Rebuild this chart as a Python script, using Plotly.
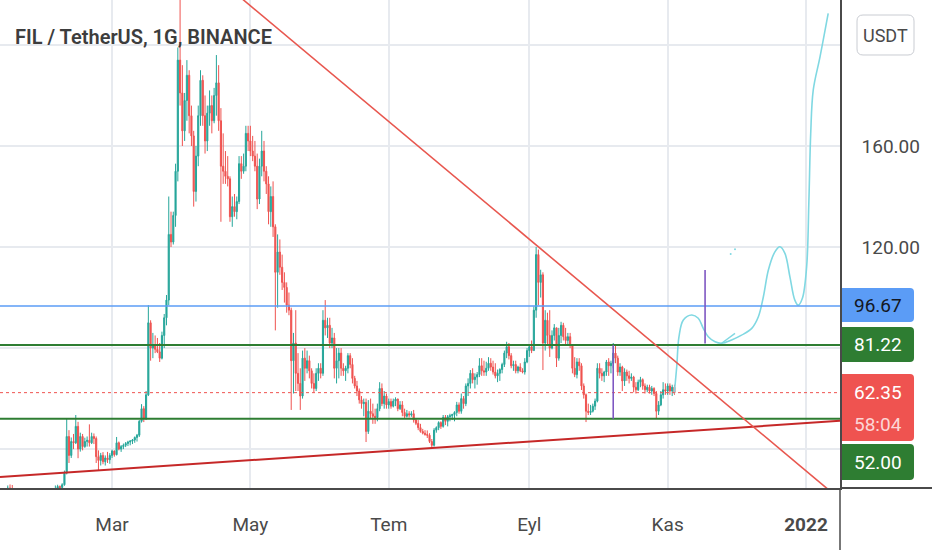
import pandas as pd
import plotly.graph_objects as go

# ---- daily candles, FIL/USDT (Binance) ----
# open of each day = close of the previous day
first_open = 20.5

jan_high = [23.5, 22, 22.5, 23.8, 25.6, 26.0, 25.8, 24.6, 24.0, 23.8, 22.6, 21.8, 20.6, 20.8, 21.5, 22.2, 21.6, 21.0, 21.2, 22.4, 22.2, 22.0]
jan_low = [19.5, 18, 19.8, 21, 22.5, 23, 23.6, 22.5, 22.2, 21.8, 20, 18.5, 18.2, 19.5, 19.8, 20.5, 20.2, 19.4, 19.6, 20.4, 21.0, 20.8]
jan_close = [21, 20.5, 21.8, 23.2, 24.6, 24.3, 24.1, 23.4, 23.0, 22.1, 21.5, 19.2, 20.1, 20.2, 21.0, 21.0, 20.9, 19.9, 20.9, 21.6, 21.7, 21.4]

feb_high = [22.8, 23.8, 24.2, 25.6, 25.9, 25.6, 26.5, 31.5, 52.3, 47.5, 44.6, 46, 53.5, 50.8, 46.5, 46, 44.5, 45, 49.8, 46.5, 46.2, 45, 39.5, 38.5, 38.8, 37.5, 38.9, 38.4]
feb_low = [21, 22, 22.8, 23.2, 23.8, 24.0, 23.8, 25.5, 30, 34.5, 36.5, 40, 42, 36.4, 39, 39.5, 40.5, 41, 41, 42, 42, 34.5, 31.5, 33.5, 34, 33.5, 34.5, 34.2]
feb_close = [22.5, 23.3, 23.9, 24.2, 25.2, 24.8, 25.9, 30.5, 45, 37.5, 43, 42.5, 49, 40, 45, 41, 43, 43.5, 42.5, 45, 44.2, 37, 35.5, 37.5, 35, 36.5, 35.8, 37.5]

mar_high = [39.8, 39.5, 44.8, 43, 41.6, 42.2, 42.8, 43.3, 43.5, 44, 45, 46, 51.5, 57.8, 57, 63, 97, 91, 86, 85, 84, 82, 86.5, 93.5, 101, 140, 134, 134, 153, 199, 237]
mar_low = [36.5, 37, 37.5, 39.5, 38.9, 40, 40.8, 41.2, 41.5, 42, 42.5, 43, 44.8, 50.5, 50.7, 51.5, 61, 75, 76, 78, 78, 74.5, 75.5, 80, 89, 97, 120, 121, 128, 146, 176]
mar_close = [39.2, 37.8, 42.5, 40, 41, 41.5, 42.2, 42.8, 43.2, 43.6, 44.6, 45.5, 51, 56, 52, 61.5, 90, 80, 81, 79.5, 78.5, 76, 85, 92, 99, 125, 122, 132.5, 150, 194, 181]

apr_high = [192, 181, 194, 190, 176, 166, 160, 176, 190, 188, 180, 176, 182, 180, 183, 196, 192, 175, 165, 158, 156, 148, 140, 141, 140, 156, 156, 157, 168, 168]
apr_low = [160, 162, 170, 165, 160, 136, 138, 152, 168, 168, 157, 158, 168, 165, 169, 172, 166, 130, 145, 145, 144, 130, 128, 132, 131, 137, 147, 149, 150, 158]
apr_close = [166, 178, 188, 172, 164, 142, 156, 172, 186, 172, 162, 173, 176, 170, 180, 185, 170, 152, 150, 148, 147, 132, 136, 134, 138, 153, 150, 152, 165, 162]

may_high = [168, 164, 162, 157, 155, 166, 162, 152, 148, 144, 146, 129, 125, 123, 117, 110, 106, 102, 96, 86, 95, 78, 72, 79, 80, 79, 77, 72, 70, 72, 74]
may_low = [156, 154, 150, 135, 137, 148, 146, 141, 129, 128, 124, 87, 96, 109, 103, 98, 94, 93, 55.5, 62, 63, 63, 55.5, 60, 67, 70, 68, 64, 62.5, 63, 67]
may_close = [158, 156, 152, 139, 152, 158, 150, 145, 134, 140, 128, 110, 118, 112, 106, 104, 97, 95, 75, 82, 70, 66, 61, 76, 72, 75, 71, 66, 64, 70, 72]

jun_high = [74, 95, 99, 92, 92, 88, 86, 80, 80, 80, 74, 73, 78, 78, 76, 69, 67, 64, 61, 60, 60, 59.4, 60, 58, 56, 58, 66.5, 66, 63, 62]
jun_low = [68, 69, 85, 84, 80, 80, 68, 66, 68, 69, 69, 67, 70, 72, 66, 64, 61, 58, 56, 53, 42.8, 46, 52, 50, 50, 51, 55, 57, 56, 56]
jun_close = [70, 91, 88, 89, 82, 84, 72, 75, 78, 72, 71, 72, 77, 73.5, 68, 65, 63, 59.5, 58, 58.5, 47, 55, 54, 53, 52.5, 56, 64, 58, 61, 57.5]

jul_high = [60, 60, 60, 60.5, 60, 59, 59, 56, 55.5, 55, 55, 55.5, 52, 51.5, 50, 48, 47.5, 47.4, 46.3, 44, 48.3, 49, 51, 51, 53.5, 53.5, 53.5, 54, 54, 55, 58.7]
jul_low = [56, 56, 56.5, 57, 55, 55.5, 53, 52, 52.5, 52.5, 52.8, 50.5, 49.5, 47.5, 46.5, 45.8, 45.3, 44.4, 42.4, 40.4, 41, 46.5, 47.5, 48, 48.5, 49.5, 49, 51, 51.5, 51, 53]
jul_close = [58.8, 57, 59, 59.8, 56, 57.5, 54.5, 53, 54, 53.5, 54, 51.5, 50.2, 48.5, 47, 46.3, 45.8, 45.5, 43, 41.5, 47.5, 48.5, 50.5, 49, 52.5, 51, 52.8, 53.2, 53.7, 54.5, 57.5]

aug_high = [58.5, 62, 61, 66, 68, 71.3, 72, 70, 70.5, 76, 76, 75, 74.6, 76.4, 76, 75, 74, 71.5, 72, 74.2, 79, 82.5, 82, 78, 75, 75, 73, 74, 72, 76, 80]
aug_low = [54, 54, 56, 57, 61, 64, 66, 64, 65.5, 68.5, 69, 69, 69, 71, 71, 69.5, 68, 66.5, 67, 70, 72.5, 76, 75.5, 72, 71, 70, 70, 70.5, 70, 69.5, 74]
aug_close = [55, 60, 58, 65, 66, 70, 67.5, 68.5, 69.5, 73, 71, 70.5, 72, 74, 72.5, 70.5, 69, 70, 71.5, 73.5, 78, 80.5, 77, 73, 73.5, 71, 72.5, 71, 70.5, 74.5, 79]

sep_high = [81.5, 83, 96.5, 120, 119, 111, 110, 95, 94, 95, 87, 89.5, 88, 88, 90.4, 90, 88, 86, 86, 81.5, 76.4, 76, 76, 74, 66, 62, 58, 57.5, 58, 60]
sep_low = [76.5, 78, 79.5, 92, 97, 100, 71.3, 79, 81, 76.5, 79.5, 83, 72.5, 75, 82, 83, 81.5, 81, 80, 70, 68.5, 68, 71, 63.4, 60, 50.7, 53.5, 53.5, 54.5, 55.5]
sep_close = [80.5, 79, 95, 117, 106, 109, 82, 91, 85, 80, 85, 88, 76, 85, 89, 84.5, 83, 84.5, 81, 72, 69.5, 74.5, 73, 65, 61.5, 55, 54.5, 55, 57, 59]

oct_high = [74, 74, 72, 71, 75.3, 76, 75, 82, 81, 77, 74, 73, 72, 71.5, 71, 70, 69, 66.5, 67.5, 68.6, 68, 66, 65.5, 65.5, 65, 64.5, 63, 59, 63, 66.5, 66]
oct_low = [58.5, 68, 67, 66.5, 69, 69, 70, 72, 74, 69, 69, 63, 65, 67, 66, 67, 62.5, 62, 63, 64.5, 63.5, 62, 62.5, 62, 61.5, 61, 52.3, 53.5, 57, 60, 61.5]
oct_close = [72, 70, 69, 70.5, 74.5, 73, 74, 78, 76, 70.5, 72.5, 67, 70.5, 69, 68, 68.5, 64.5, 63.5, 66.5, 67.5, 65, 63.5, 64.5, 63, 64, 62, 55, 57.5, 61.5, 63.5, 63]

nov_high = [66, 66, 65.5, 65.5]
nov_low = [61.5, 61.5, 61, 61.5]
nov_close = [65, 63, 64.5, 62.35]

# ---- drawings on the chart ----
level_blue = 96.67
level_green_hi = 81.22
level_green_lo = 52.00
last_price = 62.35
countdown = "58:04"

down_trend = (["2021-04-18", "2022-01-20"], [225.3, 17.1])
up_trend = (["2021-01-10 14:00", "2022-01-16"], [29.0, 51.2])
purple_1 = ("2021-10-08", [52.0, 81.2])
purple_2 = ("2021-11-17 12:00", [81.8, 110.9])

path_dates = ["2021-11-03 22:00", "2021-11-05", "2021-11-06", "2021-11-07 22:00", "2021-11-11 14:00",
              "2021-11-14 12:00", "2021-11-16 17:00", "2021-11-18 22:00", "2021-11-21 22:00",
              "2021-11-24 19:00", "2021-11-29 05:00", "2021-12-03 14:00", "2021-12-08 02:00",
              "2021-12-11", "2021-12-13 05:00", "2021-12-15 10:00", "2021-12-18 07:00",
              "2021-12-20 12:00", "2021-12-22 17:00", "2021-12-24 22:00", "2021-12-27 02:00",
              "2021-12-28 14:00", "2021-12-30 10:00", "2022-01-01 07:00", "2022-01-02 07:00",
              "2022-01-03 02:00", "2022-01-04 05:00", "2022-01-07 05:00", "2022-01-10 19:00"]
path_values = [62.0, 72.6, 84.5, 91.1, 93.1, 91.8, 87.8, 84.5, 82.5, 81.9, 83.2, 85.1, 87.8,
               92.4, 100.3, 110.9, 118.1, 120.1, 117.5, 108.2, 99.0, 97.0, 99.7, 112.2, 138.6,
               165.0, 182.2, 195.4, 212.5]
arrow_dates = ["2021-11-24 19:00", "2021-11-30 17:00"]
arrow_values = [81.9, 85.8]
dot_dates = ["2021-11-28 19:00", "2021-11-30 17:00"]
dot_values = [117.2, 119.1]

month_ticks = ["2021-03-01", "2021-05-01", "2021-07-01", "2021-09-01", "2021-11-01", "2022-01-01"]
month_labels = ["Mar", "May", "Tem", "Eyl", "Kas", "<b>2022</b>"]
price_ticks = [40, 80, 120, 160, 200]
price_labels = ["", "", "120.00", "160.00", ""]

# ---- assemble candles ----
highs = jan_high + feb_high + mar_high + apr_high + may_high + jun_high + jul_high + aug_high + sep_high + oct_high + nov_high
lows = jan_low + feb_low + mar_low + apr_low + may_low + jun_low + jul_low + aug_low + sep_low + oct_low + nov_low
closes = jan_close + feb_close + mar_close + apr_close + may_close + jun_close + jul_close + aug_close + sep_close + oct_close + nov_close
opens = [first_open] + closes[:-1]
highs = [max(h, o, c) for h, o, c in zip(highs, opens, closes)]
lows = [min(l, o, c) for l, o, c in zip(lows, opens, closes)]
days = pd.date_range("2021-01-10", periods=len(closes), freq="D")

W, H = 932, 550
PW, PH = 840, 488  # plot area in pixels
UP, DOWN = "#26a69a", "#ef5350"
GREEN = "#2e7d32"
TXT = "#4a4a4a"
SEP = "#4a4a4a"


def px(x, y):
    return f"{x / PW:.5f},{1 - y / PH:.5f}"


def box(x0, y0, x1, y1, r, all_round=False):
    rl = r if all_round else 0
    p = f"M{px(x0 + rl, y0)} L{px(x1 - r, y0)} Q{px(x1, y0)} {px(x1, y0 + r)} "
    p += f"L{px(x1, y1 - r)} Q{px(x1, y1)} {px(x1 - r, y1)} L{px(x0 + rl, y1)} "
    if rl:
        p += f"Q{px(x0, y1)} {px(x0, y1 - rl)} L{px(x0, y0 + rl)} Q{px(x0, y0)} {px(x0 + rl, y0)} "
    else:
        p += f"L{px(x0, y1)} "
    return p + "Z"


fig = go.Figure()

fig.add_trace(go.Candlestick(
    x=days, open=opens, high=highs, low=lows, close=closes,
    increasing=dict(line=dict(color=UP, width=1), fillcolor=UP),
    decreasing=dict(line=dict(color=DOWN, width=1), fillcolor=DOWN),
    whiskerwidth=0, hoverinfo="skip",
))

fig.add_trace(go.Scatter(x=path_dates, y=path_values, mode="lines",
                         line=dict(color="#80d8e2", width=1.6, shape="spline", smoothing=1.0),
                         hoverinfo="skip"))
fig.add_trace(go.Scatter(x=arrow_dates, y=arrow_values, mode="lines",
                         line=dict(color="#80d8e2", width=1.4), hoverinfo="skip"))
fig.add_trace(go.Scatter(x=dot_dates, y=dot_values, mode="markers",
                         marker=dict(color="#80d8e2", size=2), hoverinfo="skip"))

shapes = []
# horizontal levels
shapes.append(dict(type="line", xref="paper", yref="y", x0=0, x1=1, y0=level_blue, y1=level_blue,
                   line=dict(color="#5b9cf6", width=1.6)))
for lv in (level_green_hi, level_green_lo):
    shapes.append(dict(type="line", xref="paper", yref="y", x0=0, x1=1, y0=lv, y1=lv,
                       line=dict(color=GREEN, width=2)))
shapes.append(dict(type="line", xref="paper", yref="y", x0=0, x1=1, y0=last_price, y1=last_price,
                   line=dict(color=DOWN, width=1, dash="dot")))
# trend lines
shapes.append(dict(type="line", xref="x", yref="y", x0=up_trend[0][0], x1=up_trend[0][1],
                   y0=up_trend[1][0], y1=up_trend[1][1], line=dict(color="#c62828", width=2)))
shapes.append(dict(type="line", xref="x", yref="y", x0=down_trend[0][0], x1=down_trend[0][1],
                   y0=down_trend[1][0], y1=down_trend[1][1], line=dict(color="#e8574f", width=1.6)))
# purple markers
for xv, yv in (purple_1, purple_2):
    shapes.append(dict(type="line", xref="x", yref="y", x0=xv, x1=xv, y0=yv[0], y1=yv[1],
                       line=dict(color="#7e57c2", width=1.6)))
# pane separators (continue the axis lines to the window edges)
shapes.append(dict(type="line", xref="paper", yref="paper", x0=1, x1=1, y0=-(H - PH) / PH, y1=0,
                   line=dict(color=SEP, width=1.5)))
shapes.append(dict(type="line", xref="paper", yref="paper", x0=1, x1=W / PW, y0=0, y1=0,
                   line=dict(color=SEP, width=2)))
# price scale labels
shapes.append(dict(type="path", xref="paper", yref="paper", path=box(857, 15, 914, 55, 6, True),
                   fillcolor="white", line=dict(color="#c9ccd2", width=1)))
shapes.append(dict(type="path", xref="paper", yref="paper", path=box(842, 288, 914, 322, 4),
                   fillcolor="#5b9cf6", line=dict(width=0)))
shapes.append(dict(type="path", xref="paper", yref="paper", path=box(842, 327, 914, 362, 4),
                   fillcolor=GREEN, line=dict(width=0)))
shapes.append(dict(type="path", xref="paper", yref="paper", path=box(842, 374, 914, 441, 4),
                   fillcolor="#ef5350", line=dict(width=0)))
shapes.append(dict(type="path", xref="paper", yref="paper", path=box(842, 444, 914, 480, 4),
                   fillcolor=GREEN, line=dict(width=0)))

annotations = []


def label(text, x, y, color, size=19):
    annotations.append(dict(text=text, xref="paper", yref="paper", x=x / PW, y=1 - y / PH,
                            xanchor="center", yanchor="middle", showarrow=False,
                            font=dict(family="Roboto", size=size, color=color)))


label("USDT", 885.5, 35, TXT, 18)
label(f"{level_blue:.2f}", 878, 305, "#131722")
label(f"{level_green_hi:.2f}", 878, 344.5, "white")
label(f"{last_price:.2f}", 878, 392, "white")
label(countdown, 878, 424, "#fcd6d6")
label(f"{level_green_lo:.2f}", 878, 462, "white")

annotations.append(dict(text="FIL / TetherUS, 1G, BINANCE", xref="paper", yref="paper",
                        x=13 / PW, y=1 - 37 / PH, xanchor="left", yanchor="middle", showarrow=False,
                        font=dict(family="Roboto", size=20, color="#3d3d3d", weight=600)))

fig.update_layout(
    width=W, height=H,
    margin=dict(l=0, r=W - PW, t=0, b=H - PH),
    paper_bgcolor="white", plot_bgcolor="white",
    showlegend=False,
    shapes=shapes, annotations=annotations,
    xaxis=dict(type="date", range=["2021-01-10 14:00", "2022-01-16"],
               tickvals=month_ticks, ticktext=month_labels,
               showgrid=True, gridcolor="#e7eaef", gridwidth=1.5,
               zeroline=False, showline=True, linecolor=SEP, linewidth=2, ticks="",
               tickfont=dict(family="Roboto", size=19, color=TXT),
               ticklabelstandoff=18,
               rangeslider=dict(visible=False), fixedrange=True),
    yaxis=dict(side="right", range=[24.6, 217.8],
               tickvals=price_ticks, ticktext=price_labels,
               showgrid=True, gridcolor="#e7eaef", gridwidth=1.5,
               zeroline=False, showline=True, linecolor=SEP, linewidth=1.5, ticks="",
               tickfont=dict(family="Roboto", size=19, color=TXT),
               ticklabelstandoff=16, fixedrange=True),
)

# the page has a default 8px body margin; drop it so the chart sits at the window corner
fig.write_html("out.html", config={"displayModeBar": False},
               post_script="document.body.style.margin='0';")
